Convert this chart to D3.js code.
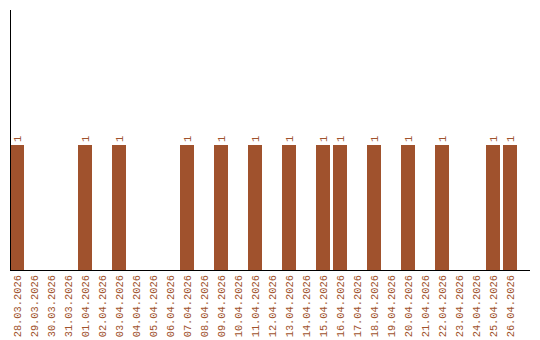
<!DOCTYPE html>
<html>
<head>
<meta charset="utf-8">
<script src="https://cdn.jsdelivr.net/npm/d3@7"></script>
<style>
  body { margin: 0; background: #fff; }
  text { font-family: "Liberation Mono", monospace; font-size: 10.4px; fill: #a0522d; }
</style>
</head>
<body>
<svg id="chart" width="540" height="340"></svg>
<script>
// dates shown on the x axis
const dates = ["28.03.2026", "29.03.2026", "30.03.2026", "31.03.2026", "01.04.2026", "02.04.2026",
  "03.04.2026", "04.04.2026", "05.04.2026", "06.04.2026", "07.04.2026", "08.04.2026",
  "09.04.2026", "10.04.2026", "11.04.2026", "12.04.2026", "13.04.2026", "14.04.2026",
  "15.04.2026", "16.04.2026", "17.04.2026", "18.04.2026", "19.04.2026", "20.04.2026",
  "21.04.2026", "22.04.2026", "23.04.2026", "24.04.2026", "25.04.2026", "26.04.2026"];

// count per day
const counts = [1, 0, 0, 0, 1, 0, 1, 0, 0, 0, 1, 0, 1, 0, 1, 0, 1, 0, 1, 1, 0, 1, 0, 1, 0, 1, 0, 0, 1, 1];

const data = dates.map((d, i) => ({ date: d, value: counts[i] }));

const svg = d3.select("#chart");
const plotLeft = 10, plotTop = 10, plotBottom = 270, plotRight = 530;

// band scale: 17px step, 14px bars
const x = d3.scaleBand()
    .domain(dates)
    .range([plotLeft, plotLeft + 29 * 17 + 14])
    .paddingInner(3 / 17)
    .paddingOuter(0);

const y = d3.scaleLinear()
    .domain([0, 2.08])
    .range([plotBottom, plotTop]);

// bars
svg.append("g")
    .selectAll("rect")
    .data(data.filter(d => d.value > 0))
    .enter()
    .append("rect")
    .attr("x", d => x(d.date))
    .attr("y", d => y(d.value))
    .attr("width", x.bandwidth())
    .attr("height", d => y(0) - y(d.value))
    .attr("fill", "#a0522d");

// value labels
svg.append("g")
    .selectAll("text")
    .data(data.filter(d => d.value > 0))
    .enter()
    .append("text")
    .attr("transform", d => `translate(${x(d.date) + x.bandwidth() / 2 + 3.5},${y(d.value) - 3}) rotate(-90)`)
    .text(d => d.value);

// date labels
svg.append("g")
    .selectAll("text")
    .data(dates)
    .enter()
    .append("text")
    .attr("text-anchor", "end")
    .attr("transform", d => `translate(${x(d) + x.bandwidth() / 2 + 3.5},${plotBottom + 5}) rotate(-90)`)
    .text(d => d);

// axes lines
svg.append("line")
    .attr("x1", plotLeft + 0.5).attr("x2", plotLeft + 0.5)
    .attr("y1", plotTop).attr("y2", plotBottom)
    .attr("stroke", "#000");

svg.append("line")
    .attr("x1", plotLeft).attr("x2", plotRight)
    .attr("y1", plotBottom + 0.5).attr("y2", plotBottom + 0.5)
    .attr("stroke", "#000");
</script>
</body>
</html>
